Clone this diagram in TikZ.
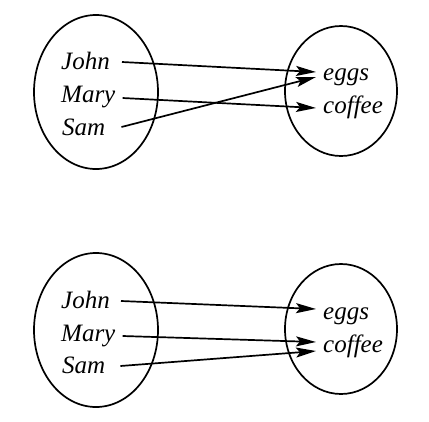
\documentclass[tikz,border=0pt]{standalone}
\usepackage{fontspec}
\setmainfont{Liberation Serif}
\newfontfamily\lblfont{Liberation Serif Italic}
\usetikzlibrary{arrows.meta,calc}
\tikzset{
  lbl/.style={inner sep=0pt, font=\fontsize{25}{28}\lblfont, anchor=base west},
  setring/.style={line width=1.7pt},
  maparrow/.style={line width=1.7pt, -{Stealth[length=20pt,width=10pt,inset=4pt]}}
}
\begin{document}
\begin{tikzpicture}[x=1pt,y=-1pt]
\useasboundingbox (0,0) rectangle (429,421);
% top
\draw[setring] (96,92) ellipse [x radius=62, y radius=77];
\draw[setring] (341,91) ellipse [x radius=56, y radius=65];
\node[lbl] (john1) at (61,69) {John};
\node[lbl] (mary1) at (61,102) {Mary};
\node[lbl] (sam1) at (62,135) {Sam};
\node[lbl] (eggs1) at (323,80) {eggs};
\node[lbl] (coffee1) at (323,113) {coffee};
\draw[maparrow] ($(john1.base east)+(12,-7)$) -- ($(eggs1.base west)+(-7,-8)$);
\draw[maparrow] ($(mary1.base east)+(7,-4)$) -- ($(coffee1.base west)+(-7,-5)$);
\draw[maparrow] ($(sam1.base east)+(16,-8)$) -- ($(eggs1.base west)+(-7,-3)$);
% bottom
\draw[setring] (96,330) ellipse [x radius=62, y radius=77];
\draw[setring] (341,329) ellipse [x radius=56, y radius=65];
\node[lbl] (john2) at (61,308) {John};
\node[lbl] (mary2) at (61,341) {Mary};
\node[lbl] (sam2) at (62,373) {Sam};
\node[lbl] (eggs2) at (323,319) {eggs};
\node[lbl] (coffee2) at (323,352) {coffee};
\draw[maparrow] ($(john2.base east)+(11,-7)$) -- ($(eggs2.base west)+(-7,-10)$);
\draw[maparrow] ($(mary2.base east)+(7,-5)$) -- ($(coffee2.base west)+(-7,-10)$);
\draw[maparrow] ($(sam2.base east)+(15,-7)$) -- ($(coffee2.base west)+(-7,-1)$);
\end{tikzpicture}
\end{document}
